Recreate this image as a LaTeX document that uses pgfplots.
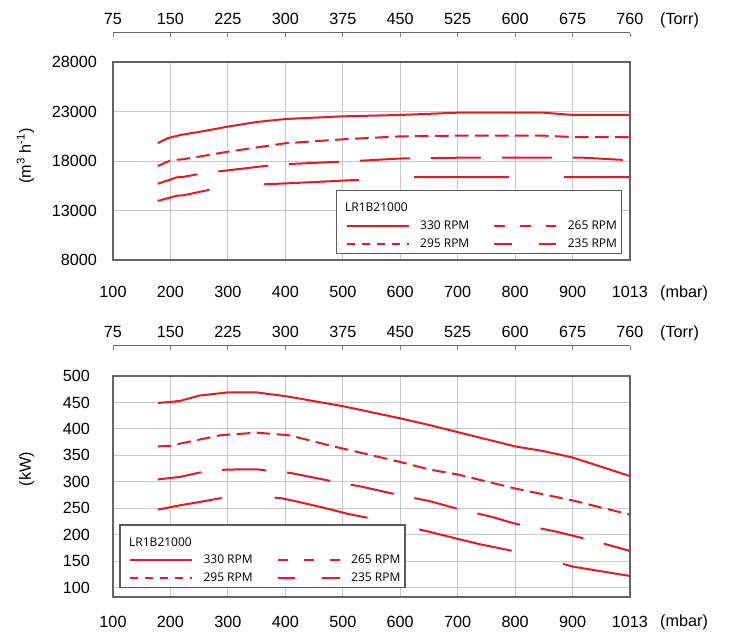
\documentclass[border=0pt]{standalone}
\usepackage{fontspec}
\setmainfont{Liberation Sans}
\newfontfamily\legfont{Open Sans}
\usepackage{pgfplots}
\pgfplotsset{compat=1.18}
\definecolor{lred}{RGB}{232,24,32}
\definecolor{gridc}{RGB}{200,200,200}
\definecolor{framec}{RGB}{100,100,100}
\newcommand\tks{\fontsize{16.2bp}{19bp}\selectfont}
\newcommand\lgs{\legfont\fontsize{12bp}{14bp}\selectfont}
\pgfplotsset{
  mainax/.style={
    scale only axis, width=517bp, xmin=0, xmax=9,
    xtick={0,...,9},
    xticklabels={100,200,300,400,500,600,700,800,900,1013},
    grid=major, grid style={draw=gridc, line width=0.9bp},
    axis line style={draw=framec, line width=1.3bp},
    major tick length=0pt,
    tick label style={font=\tks},
    /pgf/number format/assume math mode=true,
    /pgf/number format/1000 sep={},
    scaled y ticks=false,
    legend image code/.code={\draw[##1] (0bp,0bp) -- (62bp,0bp);},
    legend cell align=left, legend columns=2,
    legend style={draw=none, fill=none, inner sep=0pt, outer sep=0pt,
      anchor=north west, nodes={inner sep=0pt, font=\lgs},
      /tikz/every odd column/.append style={column sep=10.5bp},
      /tikz/every even column/.append style={column sep=24bp},
      row sep=8.1bp},
  },
  torrax/.style={
    scale only axis, width=517bp, height=20bp, anchor=north west,
    xmin=0, xmax=9, ymin=0, ymax=1, hide y axis,
    axis x line=top, x axis line style={draw=framec, line width=1bp, -},
    xtick={0,...,9},
    xticklabels={75,150,225,300,375,450,525,600,675,760},
    tick align=inside, major tick length=4bp,
    xtick style={draw=gray, line width=0.8bp},
    xticklabel style={font=\tks, anchor=south, inner sep=0pt, yshift=8bp},
    /pgf/number format/assume math mode=true,
  },
  s330/.style={lred, line width=2bp, solid, line join=round},
  s295/.style={lred, line width=2bp, dash pattern=on 13.5bp off 6.5bp, line join=round},
  l295/.style={lred, line width=2bp, dash pattern=on 8.3bp off 6.7bp},
  l265/.style={lred, line width=2bp, dash pattern=on 10.5bp off 15.5bp},
  l235/.style={lred, line width=2bp, dash pattern=on 17.5bp off 27bp},
}
\begin{document}
\begin{tikzpicture}
\useasboundingbox (0,0) rectangle (749bp,638bp);

% ---------------- top panel ----------------
\begin{axis}[mainax, at={(113bp,378bp)}, anchor=south west, height=198bp,
  ymin=8000, ymax=28000, ytick={8000,13000,18000,23000,28000},
  xticklabel style={anchor=north, inner sep=0pt, yshift=-26bp},
  yticklabel style={anchor=east, inner sep=0pt, xshift=-16bp},
  legend style={at={(0.450,0.1985)}}]
\addplot[s330, forget plot] coordinates {(0.78,19800) (0.95,20300) (1.17,20620) (1.52,20960) (2,21470) (2.5,21940) (3,22240) (4,22510) (5,22650) (6,22880) (7,22880) (7.5,22880) (8,22650) (9,22650)};
\addplot[s295, forget plot] coordinates {(0.78,17500) (1.02,18100) (1.22,18170) (2,18940) (3,19790) (4,20190) (5,20490) (6,20560) (7,20560) (7.5,20560) (8,20420) (9,20420)};
\addplot[lred, line width=2bp, dash pattern=on 50bp off 21bp, dash phase=9bp, forget plot] coordinates {(0.78,15700) (1.11,16350) (1.22,16390) (1.5,16690) (1.9,16990) (2.7,17530) (3.1,17700) (3.95,17930) (4.33,18030) (5,18250) (6,18330) (7,18330) (8.2,18330) (9,18070)};
\addplot[lred, line width=2bp, dash pattern=on 95bp off 55bp, dash phase=42bp, forget plot] coordinates {(0.78,13960) (1.11,14490) (1.22,14530) (1.72,15140) (2.65,15650) (3.1,15760) (4.22,16080) (5.22,16360) (9,16360)};
\draw[draw=black!65, line width=1.2bp, fill=white] (axis description cs:0.433,0.034) rectangle (axis description cs:0.983,0.350);
\node[anchor=base west, inner sep=0pt, font=\lgs] at (axis description cs:0.4487,0.244) {LR1B21000};
\addlegendimage{s330}\addlegendentry{330 RPM}
\addlegendimage{l265}\addlegendentry{265 RPM}
\addlegendimage{l295}\addlegendentry{295 RPM}
\addlegendimage{l235}\addlegendentry{235 RPM}
\end{axis}
\begin{axis}[torrax, at={(113bp,605bp)}]
\addplot[draw=none] coordinates {(0,0)};
\end{axis}
\node[rotate=90, font=\tks, inner sep=0pt] at (25.5bp,482bp) {(m\textsuperscript{3} h\textsuperscript{-1})};
\node[anchor=base west, font=\tks, inner sep=0pt] at (660bp,340.3bp) {(mbar)};
\node[anchor=base west, font=\tks, inner sep=0pt] at (660bp,613bp) {(Torr)};

% ---------------- bottom panel ----------------
\begin{axis}[mainax, at={(113bp,41bp)}, anchor=south west, height=221bp,
  ymin=82.5, ymax=500, ytick={100,150,...,500},
  xticklabel style={anchor=north, inner sep=0pt, yshift=-18.7bp},
  yticklabel style={anchor=east, inner sep=0pt, xshift=-23bp},
  legend style={at={(0.031,0.190)}}]
\addplot[s330, forget plot] coordinates {(0.78,449) (1,451) (1.17,453) (1.5,463) (2,469) (2.5,469) (3,462) (4,443) (5,420) (5.52,407) (6,394) (7,367) (7.5,358) (8,346) (9,311)};
\addplot[s295, forget plot] coordinates {(0.78,367) (1,368) (1.22,373.5) (1.87,388) (2.5,393) (3.07,388) (3.76,369) (4,363) (5,337.6) (5.52,323) (6,314) (7,287.5) (8,265) (9,238)};
\addplot[lred, line width=2bp, dash pattern=on 44bp off 21bp, forget plot] coordinates {(0.78,304.5) (1.17,309.5) (1.57,319) (1.98,323.2) (2.5,323.8) (2.73,320.6) (3.09,316.8) (3.93,298.6) (4.3,291.6) (5.08,272.7) (5.5,264) (6,249) (6.6,233.7) (7,221) (7.32,214.7) (7.69,206.6) (8,198.5) (8.54,183.4) (9,169.4)};
\addplot[lred, line width=2bp, dash pattern=on 95bp off 53bp, dash phase=30bp, forget plot] coordinates {(0.78,247.6) (1.17,255.8) (1.51,262) (1.93,270.3) (2.4,273) (2.9,269.6) (3.05,266.5) (3.66,251.4) (4.07,240) (4.59,228.7) (5.52,205.3) (5.98,192.9) (6.39,182.1) (6.96,169.5) (7.87,144) (8,140) (9,122.2)};
\draw[draw=black!65, line width=1.2bp, fill=white] (axis description cs:0.0135,0.042) rectangle (axis description cs:0.5648,0.326);
\node[anchor=base west, inner sep=0pt, font=\lgs] at (axis description cs:0.031,0.2276) {LR1B21000};
\addlegendimage{s330}\addlegendentry{330 RPM}
\addlegendimage{l265}\addlegendentry{265 RPM}
\addlegendimage{l295}\addlegendentry{295 RPM}
\addlegendimage{l235}\addlegendentry{235 RPM}
\end{axis}
\begin{axis}[torrax, at={(113bp,292.3bp)}]
\addplot[draw=none] coordinates {(0,0)};
\end{axis}
\node[rotate=90, font=\tks, inner sep=0pt] at (26.7bp,169bp) {(kW)};
\node[anchor=base west, font=\tks, inner sep=0pt] at (660bp,11.3bp) {(mbar)};
\node[anchor=base west, font=\tks, inner sep=0pt] at (660bp,300.7bp) {(Torr)};
\end{tikzpicture}
\end{document}
